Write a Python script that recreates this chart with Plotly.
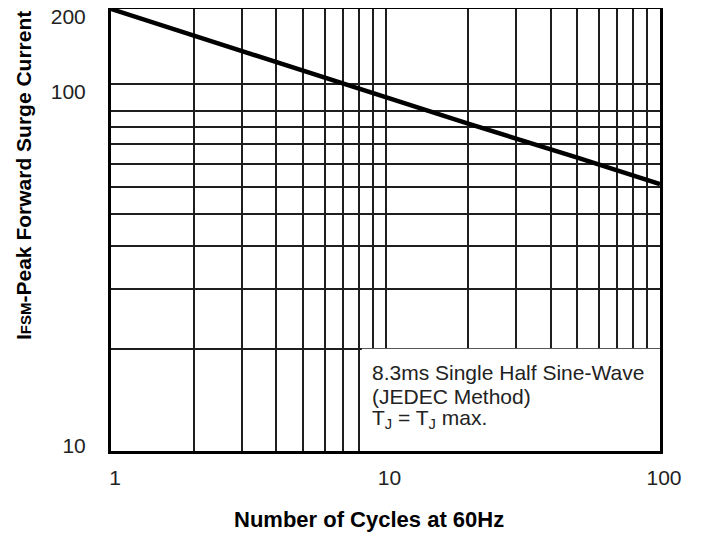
import math
import plotly.graph_objects as go

# ---- data ----
cycles = [1, 2, 5, 10, 20, 50, 100]
ifsm = [200, 167, 132, 110, 92, 73, 61]

x_tick_vals = [1, 10, 100]
x_tick_text = ["1", "10", "100"]
x_grid_vals = [2, 3, 4, 5, 6, 7, 8, 9, 20, 30, 40, 50, 60, 70, 80, 90]

y_tick_vals = [10, 100, 200]
y_tick_text = ["10", "100", "200"]
y_grid_vals = [20, 30, 40, 50, 60, 70, 80, 90, 120]

note_lines = ["8.3ms Single Half Sine-Wave", "(JEDEC Method)",
              "T<sub>J</sub> = T<sub>J</sub> max."]
note_box_x = [8.2, 100]
note_box_y = [10, 20]

x_title = "Number of Cycles at 60Hz"
y_title = "I<span style='font-size:15px'>FSM</span>-Peak Forward Surge Current"

FONT = "Liberation Sans, Arial, sans-serif"
GRID = "#1e1e1e"

# in the reference the "10" and "100" labels sit a little above their
# grid lines; padding lines below the label reproduce that placement
label_pad = {"10": 1, "100": 2, "200": 0}
y_tick_text_drawn = [t + "<br>\u00a0" * label_pad[t] for t in y_tick_text]

fig = go.Figure()
fig.add_trace(go.Scatter(x=cycles, y=ifsm, mode="lines",
                         line=dict(color="black", width=4.5),
                         showlegend=False, hoverinfo="skip"))

axis_common = dict(
    type="log", showline=True, linecolor="black", linewidth=3, mirror=True,
    ticks="", showgrid=True, gridcolor=GRID, gridwidth=1.8, zeroline=False,
    automargin=False,
    tickfont=dict(family=FONT, size=21, color="#222"),
)

fig.update_xaxes(
    **axis_common,
    range=[math.log10(1), math.log10(100)],
    tickmode="array", tickvals=x_tick_vals, ticktext=x_tick_text,
    minor=dict(tickmode="array", tickvals=x_grid_vals, showgrid=True,
               gridcolor=GRID, gridwidth=1.8, ticks=""),
    ticklabelstandoff=6, ticklabelshift=4,
)
fig.update_yaxes(
    **axis_common,
    range=[math.log10(10), math.log10(200)],
    tickmode="array", tickvals=y_tick_vals, ticktext=y_tick_text_drawn,
    minor=dict(tickmode="array", tickvals=y_grid_vals, showgrid=True,
               gridcolor=GRID, gridwidth=1.8, ticks=""),
    ticklabelstandoff=18, ticklabelshift=8, ticklabeloverflow="allow",
)

fig.add_shape(type="rect", xref="x", yref="y",
              x0=note_box_x[0], x1=note_box_x[1],
              y0=note_box_y[0], y1=note_box_y[1],
              fillcolor="white", line=dict(width=0), layer="between")

for line_text, ypos in zip(note_lines, [0.1787, 0.1244, 0.0724]):
    fig.add_annotation(text=line_text, xref="paper", yref="paper",
                       x=0.472, y=ypos, xanchor="left", yanchor="middle",
                       align="left", showarrow=False,
                       font=dict(family=FONT, size=21, color="#222"))

fig.add_annotation(text="<b>" + x_title + "</b>", xref="paper", yref="paper",
                   x=0.47, y=-0.156, xanchor="center", yanchor="middle",
                   showarrow=False,
                   font=dict(family=FONT, size=22, color="black"))

fig.add_annotation(text="<b>" + y_title + "</b>", xref="paper", yref="paper",
                   x=-0.1603, y=0.6244, xanchor="center", yanchor="middle",
                   textangle=-90, showarrow=False,
                   font=dict(family=FONT, size=21, color="black"))

fig.update_layout(
    width=703, height=536,
    margin=dict(l=103, r=51, t=1, b=93),
    paper_bgcolor="white", plot_bgcolor="white",
    showlegend=False,
)

fig.write_html("out.html")
